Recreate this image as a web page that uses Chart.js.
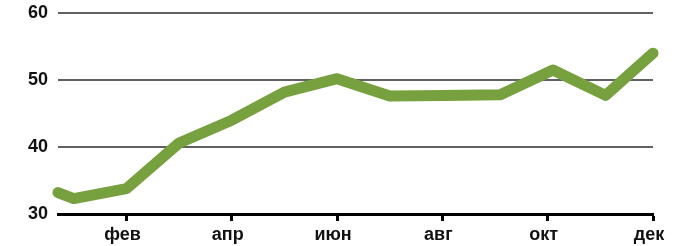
<!DOCTYPE html>
<html>
<head>
<meta charset="utf-8">
<script src="https://cdn.jsdelivr.net/npm/chart.js@4"></script>
<style>
  body { margin: 0; background: #fff; }
  #wrap { width: 678px; height: 246px; }
</style>
</head>
<body>
<div id="wrap"><canvas id="grafico"></canvas></div>
<script>
// posición en meses (1 = янв ... 12 = дек) y valores
const meses = [0.7, 1, 2, 3, 4, 5, 6, 7, 8, 9.1, 10.1, 11.1, 12];
const valores = [33.2, 32.3, 33.8, 40.6, 44.0, 48.2, 50.2, 47.6, 47.7, 47.8, 51.5, 47.7, 54.0];
const etiquetasMes = { 2: 'фев', 4: 'апр', 6: 'июн', 8: 'авг', 10: 'окт', 12: 'дек' };
const marcasY = [30, 40, 50, 60];

const fuente = { family: '"Liberation Sans", Arial, sans-serif', size: 18, weight: 'bold' };

const ctx = document.getElementById('grafico').getContext('2d');
new Chart(ctx, {
    type: 'line',
    data: {
        datasets: [{
            data: meses.map((m, i) => ({ x: m, y: valores[i] })),
            borderColor: '#76a13e',
            borderWidth: 11,
            borderCapStyle: 'round',
            borderJoinStyle: 'round',
            pointRadius: 0,
            tension: 0,
            clip: false
        }]
    },
    options: {
        responsive: true,
        maintainAspectRatio: false,
        animation: false,
        layout: { padding: { top: 13, right: 25, left: 0, bottom: 0 } },
        plugins: { legend: { display: false }, tooltip: { enabled: false } },
        scales: {
            x: {
                type: 'linear',
                min: 0.7,
                max: 12,
                afterBuildTicks: s => { s.ticks = Object.keys(etiquetasMes).map(v => ({ value: +v })); },
                afterFit: s => { s.height = 32; },
                grid: { drawOnChartArea: false, drawTicks: true, tickLength: 7, tickWidth: 3, tickColor: '#000' },
                border: { display: true, color: '#000', width: 3 },
                ticks: {
                    font: fuente,
                    color: '#111',
                    padding: 3,
                    labelOffset: -4,
                    maxRotation: 0,
                    autoSkip: false,
                    callback: v => etiquetasMes[v] || ''
                }
            },
            y: {
                min: 30,
                max: 60,
                afterBuildTicks: s => { s.ticks = marcasY.map(v => ({ value: v })); },
                afterFit: s => { s.width = 58; s.paddingTop = 0; s.paddingBottom = 0; },
                grid: {
                    drawTicks: false,
                    lineWidth: 2,
                    color: c => c.tick && c.tick.value === 30 ? 'rgba(0,0,0,0)' : '#616161'
                },
                border: { display: false },
                ticks: { font: fuente, color: '#111', padding: 10 }
            }
        }
    }
});
</script>
</body>
</html>
